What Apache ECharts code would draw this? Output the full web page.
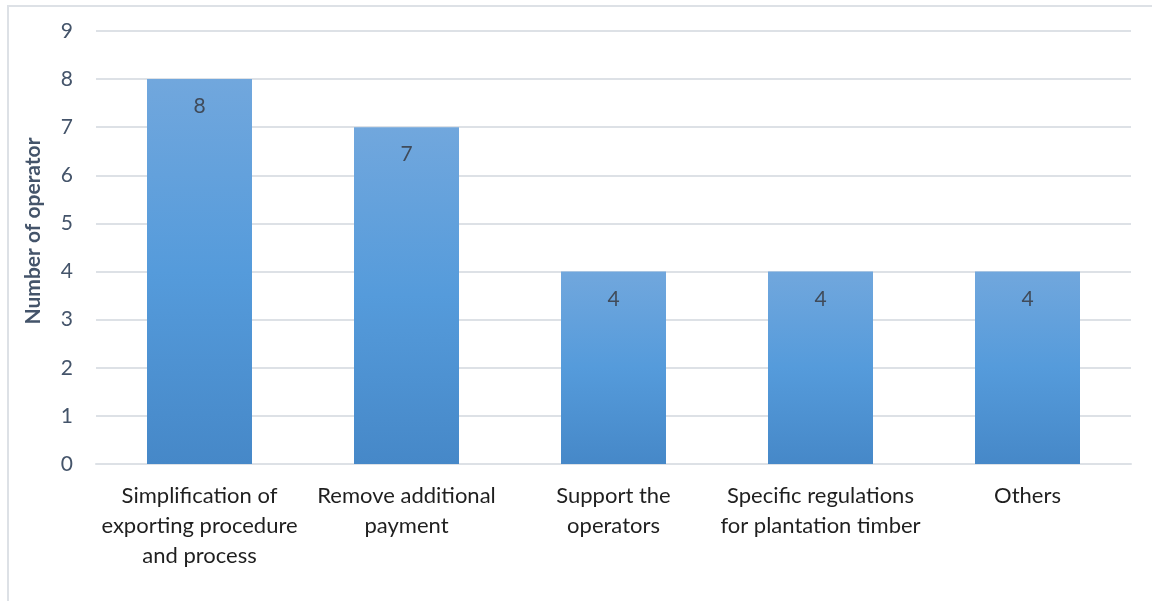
<!DOCTYPE html>
<html>
<head>
<meta charset="utf-8">
<script src="https://cdn.jsdelivr.net/npm/echarts@6/dist/echarts.min.js"></script>
<style>
  html, body { margin: 0; padding: 0; background: #fff; }
  #frame { position: absolute; left: 7px; top: 5px; width: 1150px; height: 600px;
           border: 2px solid #dde1e6; box-sizing: border-box; }
  #chart { position: absolute; left: 0; top: 0; width: 1152px; height: 601px; }
</style>
</head>
<body>
<div id="frame"></div>
<div id="chart"></div>
<script>
// Categories (measures suggested by operators) and counts
const categories = [
  'Simplification of\nexporting procedure\nand process',
  'Remove additional\npayment',
  'Support the\noperators',
  'Specific regulations\nfor plantation timber',
  'Others'
];
const operatorCounts = [8, 7, 4, 4, 4];
const yTicks = [0, 1, 2, 3, 4, 5, 6, 7, 8, 9];
const yAxisTitle = 'Number of operator';

const chart = echarts.init(document.getElementById('chart'), null, { renderer: 'canvas' });
const fontFamily = 'Lato, Carlito, "Open Sans", sans-serif';

chart.setOption({
  animation: false,
  grid: { left: 96, right: 21, top: 31, bottom: 137, containLabel: false },
  // Rotated y-axis title, placed slightly above the plot's vertical centre
  graphic: [{
    type: 'text',
    x: 33,
    y: 231,
    rotation: Math.PI / 2,
    style: {
      text: yAxisTitle,
      fill: '#44546a',
      font: 'bold 21px ' + fontFamily,
      align: 'center',
      verticalAlign: 'middle'
    }
  }],
  xAxis: {
    type: 'category',
    data: categories,
    axisTick: { show: false },
    axisLine: { show: true, lineStyle: { color: '#dde1e6', width: 2 } },
    axisLabel: {
      color: '#1f1f1f', fontSize: 22, fontFamily: fontFamily,
      lineHeight: 30, margin: 17, interval: 0, align: 'center'
    }
  },
  yAxis: {
    type: 'value',
    min: yTicks[0],
    max: yTicks[yTicks.length - 1],
    interval: 1,
    axisLine: { show: false },
    axisTick: { show: false },
    axisLabel: { color: '#44546a', fontSize: 21, fontFamily: fontFamily, margin: 23 },
    splitLine: { lineStyle: { color: '#dde1e6', width: 2 } }
  },
  series: [{
    type: 'bar',
    data: operatorCounts,
    barWidth: 105,
    itemStyle: {
      color: new echarts.graphic.LinearGradient(0, 0, 0, 1, [
        { offset: 0, color: '#71a7dd' },
        { offset: 0.5, color: '#559bdb' },
        { offset: 1, color: '#4688c8' }
      ])
    },
    label: {
      show: true,
      position: 'insideTop',
      distance: 17,
      color: '#404b5a',
      fontSize: 21,
      fontFamily: fontFamily
    }
  }]
});
</script>
</body>
</html>
